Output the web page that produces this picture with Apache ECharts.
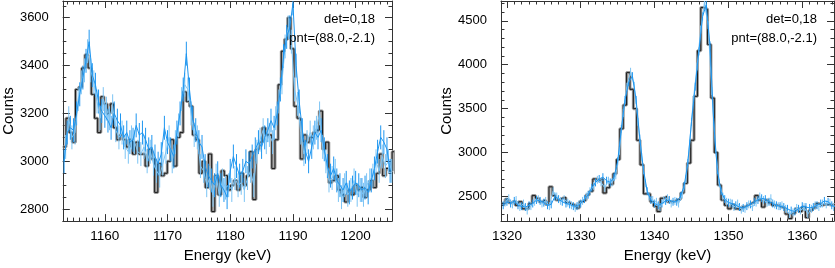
<!DOCTYPE html>
<html>
<head>
<meta charset="utf-8">
<script src="https://cdn.jsdelivr.net/npm/echarts@6/dist/echarts.min.js"></script>
<style>html,body{margin:0;padding:0;background:#fff;}#c{width:835px;height:268px;}</style>
</head>
<body>
<div id="c"></div>
<script>
// ---------- LEFT PANEL DATA ----------
const leftXRange = [1153.3, 1205.8];
const leftYRange = [2750, 3670];
const leftXMajor = [1160, 1170, 1180, 1190, 1200];
const leftYMajor = [2800, 3000, 3200, 3400, 3600];
const leftHistStart = 1153.3, leftHistWidth = 0.505;
const leftHist = [3060,3180,3120,3080,3300,3310,3390,3445,3390,3280,3180,3120,3270,3240,3200,3240,3140,3090,3110,3090,
  3060,3090,3030,3080,3030,3030,2980,3050,3010,2870,2990,2940,2950,3000,3090,2980,3100,3120,3290,3250,
  3230,3110,3090,2950,3000,2890,3030,2790,2940,2860,2960,2940,2880,2900,2920,2880,2950,2900,2940,3040,
  2840,3050,3080,3140,3110,3110,2970,3090,3320,3460,3510,3600,3470,3230,3180,3010,3110,3080,3100,3120,
  3130,3210,3050,3080,2910,2920,2940,2880,2860,2830,2880,2860,2900,2880,2890,2850,2880,2920,2890,2950,
  3030,2940,2970,2960,3040,2950];
const leftBrightStart = 1153.5, leftBrightStep = 0.5;
const leftBright = [3000,3120,3140,3130,3200,3280,3350,3420,3500,3360,3320,3250,3210,3190,3170,3140,3200,3170,3150,3100,
  3120,3080,3090,3150,3110,3120,3090,3050,3060,3020,2990,3030,3140,3080,3050,3020,3120,3200,3300,3450,
  3300,3180,3130,3080,3060,2980,2940,2920,2900,2950,2900,2880,2850,2960,3020,2980,2940,2960,3000,2990,
  3020,3050,3080,3060,3100,3130,3170,3140,3200,3300,3440,3520,3560,3660,3400,3250,3130,3040,3000,3060,
  3120,3100,3130,3050,2980,2940,2970,2920,2900,2880,2910,2870,2890,2910,2900,2880,2890,2870,2920,2970,
  3040,3100,3080,3050,2960];
const leftLightStart = 1153.75, leftLightStep = 0.5;
const leftLight = [3060,3180,3100,3120,3260,3330,3380,3460,3380,3330,3250,3180,3260,3220,3180,3230,3130,3100,3120,3060,
  3040,3100,3080,3040,3030,3060,3000,3040,2990,2960,2940,2990,3040,3100,3000,3080,3150,3260,3320,3300,
  3200,3110,3100,2980,2960,2900,2930,2860,2940,2860,2920,2890,2900,2880,2930,2900,2910,2880,2930,2960,
  2900,3040,3090,3130,3080,3110,3080,3180,3250,3330,3480,3560,3500,3300,3240,3120,3030,3080,3120,3100,
  3140,3200,3060,3000,2920,2930,2960,2880,2850,2900,2860,2880,2920,2860,2880,2860,2900,2920,2940,3000,
  2960,3020,2980,3000,2960];
const leftErr = 50;

// ---------- RIGHT PANEL DATA ----------
const rightXRange = [1319.2, 1364.3];
const rightYRange = [2220, 4725];
const rightXMajor = [1320, 1330, 1340, 1350, 1360];
const rightYMajor = [2500, 3000, 3500, 4000, 4500];
const rightHistStart = 1319.3, rightHistWidth = 0.457;
const rightHist = [2420,2470,2430,2450,2400,2440,2360,2360,2420,2510,2480,2440,2460,2410,2610,2510,2460,2480,2490,2430,
  2410,2400,2370,2440,2460,2520,2560,2700,2680,2700,2540,2600,2640,2760,2920,3270,3540,3910,3720,3500,
  3140,2860,2530,2530,2440,2390,2330,2480,2500,2440,2440,2460,2470,2540,2650,2880,3140,3640,4160,4650,
  4630,4230,3620,3000,2630,2460,2400,2360,2410,2360,2350,2380,2400,2420,2440,2510,2460,2380,2460,2430,
  2400,2400,2380,2370,2300,2250,2310,2360,2330,2380,2260,2340,2370,2420,2400,2410,2410,2400,2410,2400];
const rightBrightStart = 1319.5, rightBrightStep = 0.5;
const rightBright = [2400,2440,2420,2450,2400,2390,2380,2400,2420,2460,
  2450,2430,2400,2410,2500,2470,2440,2420,2410,2390,
  2390,2420,2470,2520,2600,2660,2700,2720,2680,2660,
  2720,2900,3270,3600,3800,3870,3600,3160,2800,2560,
  2460,2420,2400,2420,2450,2460,2440,2440,2500,2620,
  2880,3350,3750,4150,4550,4680,4220,3350,2800,2560,
  2470,2430,2420,2400,2380,2370,2390,2410,2440,2460,
  2480,2470,2440,2420,2400,2390,2380,2360,2340,2330,
  2360,2390,2380,2370,2380,2400,2420,2450,2440,2400,
  2380];
const rightLightStart = 1319.75, rightLightStep = 0.5;
const rightLight = [2430,2480,2410,2460,2380,2420,2340,2390,2440,2470,
  2420,2450,2390,2560,2500,2450,2470,2430,2400,2370,
  2410,2450,2500,2560,2620,2690,2660,2600,2680,2660,
  2740,3020,3450,3750,3920,3760,3350,2950,2650,2500,
  2460,2440,2380,2460,2480,2420,2450,2420,2520,2700,
  3100,3600,3980,4400,4700,4450,3700,3050,2650,2500,
  2440,2430,2380,2420,2350,2360,2410,2380,2430,2500,
  2460,2430,2480,2410,2390,2400,2360,2300,2320,2370,
  2340,2380,2300,2360,2400,2380,2420,2410,2430,2380];
const rightErr = 45;

const labelText1 = 'det=0,18';
const labelText2 = 'pnt=(88.0,-2.1)';

// ---------- helpers ----------
function histPoints(start, width, vals) {
  const pts = vals.map((v, i) => [start + i * width, v]);
  pts.push([start + vals.length * width, vals[vals.length - 1]]);
  return pts;
}
function linePoints(start, step, vals) {
  return vals.map((v, i) => [start + i * step, v]);
}
function errPoints(start, step, vals, err) {
  return vals.map((v, i) => [start + i * step, v, err]);
}
function minorList(min, max, step) {
  const out = [];
  let v = Math.ceil(min / step) * step;
  for (; v <= max + 1e-9; v += step) out.push(Math.round(v * 1000) / 1000);
  return out;
}

const AX = '#333';
const FONT = "'Liberation Sans', Arial, sans-serif";
const plain = v => String(v);
const xAxes = [], yAxes = [], series = [];

function addPanel(gi, xr, yr, xMaj, xMinStep, yMaj, yMinStep) {
  const xBase = xAxes.length, yBase = yAxes.length;
  const xMin = minorList(xr[0], xr[1], xMinStep), yMin = minorList(yr[0], yr[1], yMinStep);
  const commonX = { type: 'value', gridIndex: gi, min: xr[0], max: xr[1], splitLine: { show: false } };
  const commonY = { type: 'value', gridIndex: gi, min: yr[0], max: yr[1], splitLine: { show: false } };
  xAxes.push(Object.assign({}, commonX, {
    position: 'bottom',
    name: 'Energy (keV)', nameLocation: 'middle', nameGap: 21,
    nameTextStyle: { fontSize: 15, color: '#000', fontFamily: FONT },
    axisLine: { show: true, lineStyle: { color: AX, width: 1 } },
    axisTick: { show: true, inside: true, length: 7, customValues: xMaj, lineStyle: { color: AX } },
    axisLabel: { show: true, customValues: xMaj, formatter: plain, margin: 8, fontSize: 13.5, color: '#000', fontFamily: FONT }
  }));
  xAxes.push(Object.assign({}, commonX, {
    position: 'bottom', axisLine: { show: false },
    axisTick: { show: true, inside: true, length: 3.5, customValues: xMin, lineStyle: { color: AX } },
    axisLabel: { show: false }
  }));
  xAxes.push(Object.assign({}, commonX, {
    position: 'top', axisLine: { show: true, lineStyle: { color: AX, width: 1 } },
    axisTick: { show: true, inside: true, length: 7, customValues: xMaj, lineStyle: { color: AX } },
    axisLabel: { show: false }
  }));
  xAxes.push(Object.assign({}, commonX, {
    position: 'top', axisLine: { show: false },
    axisTick: { show: true, inside: true, length: 3.5, customValues: xMin, lineStyle: { color: AX } },
    axisLabel: { show: false }
  }));
  yAxes.push(Object.assign({}, commonY, {
    position: 'left',
    name: 'Counts', nameLocation: 'middle', nameGap: 43,
    nameTextStyle: { fontSize: 15, color: '#000', fontFamily: FONT },
    axisLine: { show: true, lineStyle: { color: AX, width: 1 } },
    axisTick: { show: true, inside: true, length: 7, customValues: yMaj, lineStyle: { color: AX } },
    axisLabel: { show: true, customValues: yMaj, formatter: plain, margin: 14, fontSize: 13, color: '#000',
      fontFamily: "'Liberation Sans Narrow', 'Liberation Sans', Arial, sans-serif" }
  }));
  yAxes.push(Object.assign({}, commonY, {
    position: 'left', axisLine: { show: false },
    axisTick: { show: true, inside: true, length: 3.5, customValues: yMin, lineStyle: { color: AX } },
    axisLabel: { show: false }
  }));
  yAxes.push(Object.assign({}, commonY, {
    position: 'right', axisLine: { show: true, lineStyle: { color: AX, width: 1 } },
    axisTick: { show: true, inside: true, length: 7, customValues: yMaj, lineStyle: { color: AX } },
    axisLabel: { show: false }
  }));
  yAxes.push(Object.assign({}, commonY, {
    position: 'right', axisLine: { show: false },
    axisTick: { show: true, inside: true, length: 3.5, customValues: yMin, lineStyle: { color: AX } },
    axisLabel: { show: false }
  }));
  return { x: xBase, y: yBase };
}

function errSeries(ax, data, color) {
  return {
    type: 'custom', xAxisIndex: ax.x, yAxisIndex: ax.y, clip: true, silent: true,
    renderItem: function (params, api) {
      const x = api.value(0), y = api.value(1), e = api.value(2);
      const p1 = api.coord([x, y - e]), p2 = api.coord([x, y + e]);
      return { type: 'line', shape: { x1: p1[0], y1: p1[1], x2: p2[0], y2: p2[1] },
        style: { stroke: color, lineWidth: 1 } };
    },
    data: data, z: 3
  };
}

function addSeries(ax, hs, hw, hv, bs, bst, bv, ls, lst, lv, err) {
  series.push({ type: 'line', xAxisIndex: ax.x, yAxisIndex: ax.y, step: 'end', symbol: 'none', silent: true,
    data: histPoints(hs, hw, hv), lineStyle: { color: '#9a9a9a', width: 3 }, z: 1, animation: false });
  series.push({ type: 'line', xAxisIndex: ax.x, yAxisIndex: ax.y, step: 'end', symbol: 'none', silent: true,
    data: histPoints(hs, hw, hv), lineStyle: { color: '#1a1a1a', width: 1 }, z: 2, animation: false });
  series.push(errSeries(ax, errPoints(ls, lst, lv, err), '#7cc4f4'));
  series.push({ type: 'line', xAxisIndex: ax.x, yAxisIndex: ax.y, symbol: 'none', silent: true,
    data: linePoints(ls, lst, lv), lineStyle: { color: '#7cc4f4', width: 1 }, z: 3, animation: false });
  series.push(errSeries(ax, errPoints(bs, bst, bv, err), '#1e96f0'));
  series.push({ type: 'line', xAxisIndex: ax.x, yAxisIndex: ax.y, symbol: 'none', silent: true,
    data: linePoints(bs, bst, bv), lineStyle: { color: '#1e96f0', width: 1 }, z: 4, animation: false });
}

const axL = addPanel(0, leftXRange, leftYRange, leftXMajor, 1, leftYMajor, 50);
const axR = addPanel(1, rightXRange, rightYRange, rightXMajor, 1, rightYMajor, 100);
addSeries(axL, leftHistStart, leftHistWidth, leftHist, leftBrightStart, leftBrightStep, leftBright,
  leftLightStart, leftLightStep, leftLight, leftErr);
addSeries(axR, rightHistStart, rightHistWidth, rightHist, rightBrightStart, rightBrightStep, rightBright,
  rightLightStart, rightLightStep, rightLight, rightErr);

const chart = echarts.init(document.getElementById('c'), null, { renderer: 'canvas' });
chart.setOption({
  animation: false,
  backgroundColor: '#fff',
  grid: [
    { left: 59, top: 1, width: 333, height: 228 },
    { left: 501, top: 1, width: 333, height: 228 }
  ],
  xAxis: xAxes,
  yAxis: yAxes,
  series: series,
  graphic: [
    { type: 'text', right: 835 - 375, top: 13, style: { text: labelText1, font: "13px 'Liberation Sans', Arial", fill: '#000', textAlign: 'right' }, z: 10 },
    { type: 'text', right: 835 - 375, top: 32, style: { text: labelText2, font: "13px 'Liberation Sans', Arial", fill: '#000', textAlign: 'right' }, z: 10 },
    { type: 'text', right: 835 - 817, top: 13, style: { text: labelText1, font: "13px 'Liberation Sans', Arial", fill: '#000', textAlign: 'right' }, z: 10 },
    { type: 'text', right: 835 - 817, top: 32, style: { text: labelText2, font: "13px 'Liberation Sans', Arial", fill: '#000', textAlign: 'right' }, z: 10 }
  ]
});
</script>
</body>
</html>
